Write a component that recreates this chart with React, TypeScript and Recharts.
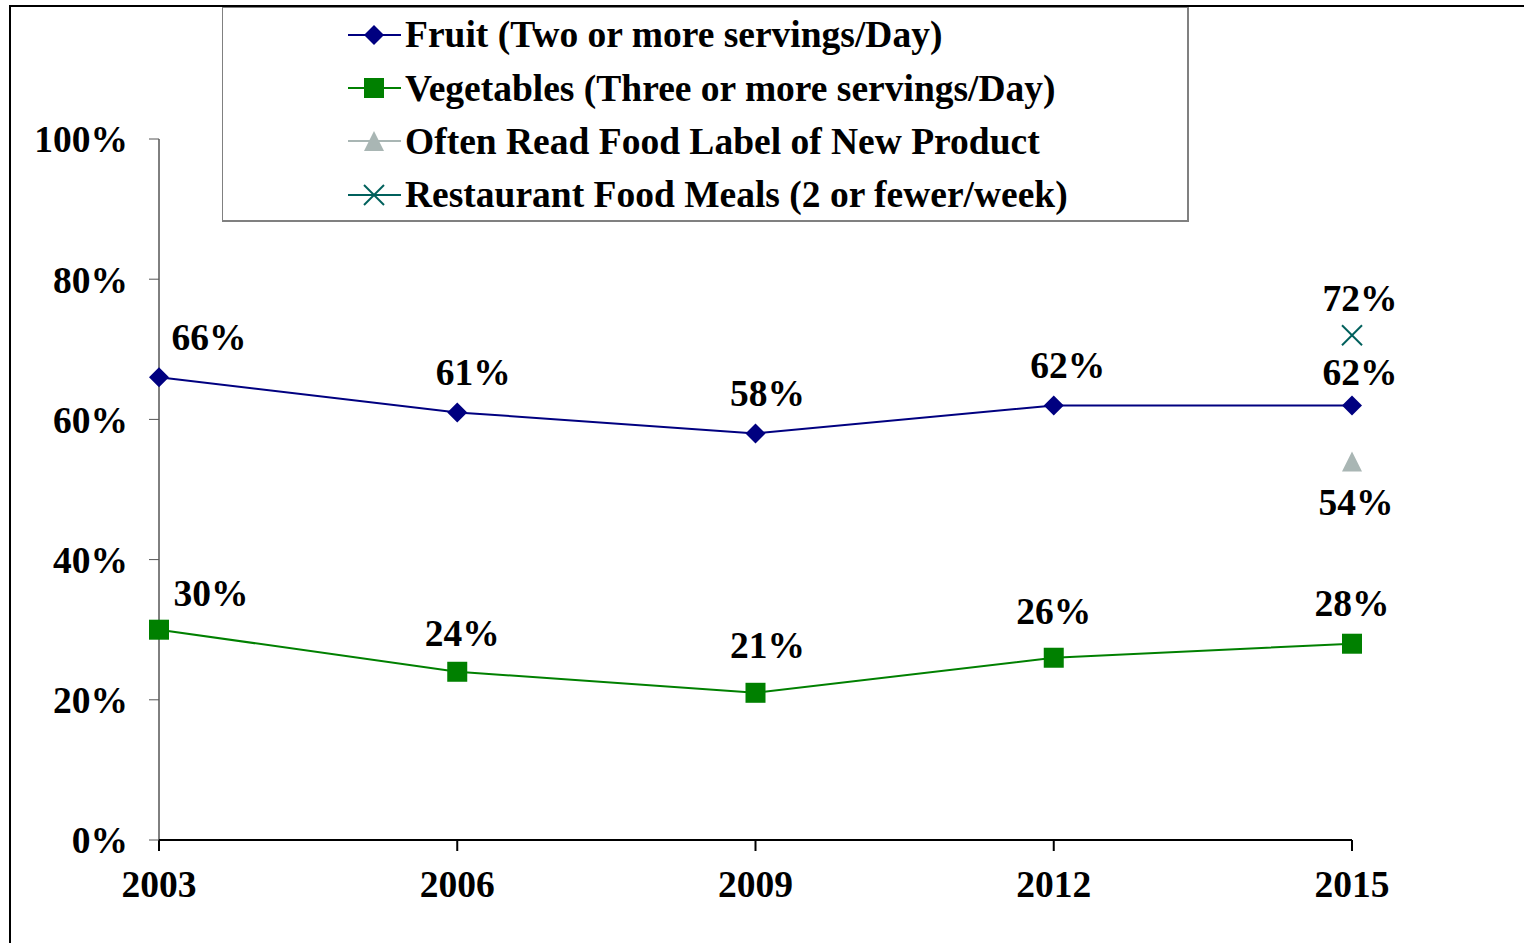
import { LineChart, Line, XAxis, YAxis } from "recharts";

// values
const years = ["2003", "2006", "2009", "2012", "2015"];
const fruit = [66, 61, 58, 62, 62];
const vegetables = [30, 24, 21, 26, 28];
const foodLabel = [null, null, null, null, 54];
const restaurant = [null, null, null, null, 72];
const yTicks = [0, 20, 40, 60, 80, 100];

const data = years.map((year, i) => ({
  year,
  fruit: fruit[i],
  vegetables: vegetables[i],
  foodLabel: foodLabel[i],
  restaurant: restaurant[i],
}));

const FONT = "'Liberation Serif', 'Times New Roman', serif";
const FS = 37.5;

const series = [
  { key: "fruit", name: "Fruit (Two or more servings/Day)", color: "#000080", shape: "diamond" },
  { key: "vegetables", name: "Vegetables (Three or more servings/Day)", color: "#008000", shape: "square" },
  { key: "foodLabel", name: "Often Read Food Label of New Product", color: "#A9B6B4", shape: "triangle" },
  { key: "restaurant", name: "Restaurant Food Meals (2 or fewer/week)", color: "#00605C", shape: "cross" },
];

// label nudges (centre of text relative to point)
const labelShift = {
  fruit: { dx: [50, 16, 12, 14, 8], dy: [-40, -40, -40, -40, -33] },
  vegetables: { dx: [52, 5, 12, 0, 0], dy: [-36, -38, -47, -46, -40] },
  foodLabel: { dx: [0, 0, 0, 0, 4], dy: [0, 0, 0, 0, 41] },
  restaurant: { dx: [0, 0, 0, 0, 8], dy: [0, 0, 0, 0, -37] },
};

function Marker({ cx, cy, shape, color, size = 20 }) {
  const h = size / 2;
  if (shape === "diamond") {
    return <polygon points={`${cx},${cy - h} ${cx + h},${cy} ${cx},${cy + h} ${cx - h},${cy}`} fill={color} />;
  }
  if (shape === "square") {
    return <rect x={cx - h} y={cy - h} width={size} height={size} fill={color} />;
  }
  if (shape === "triangle") {
    return <polygon points={`${cx},${cy - h} ${cx + h},${cy + h} ${cx - h},${cy + h}`} fill={color} />;
  }
  return (
    <g stroke={color} strokeWidth={2}>
      <line x1={cx - h} y1={cy - h} x2={cx + h} y2={cy + h} />
      <line x1={cx - h} y1={cy + h} x2={cx + h} y2={cy - h} />
    </g>
  );
}

const makeDot = (s) => (props) => {
  const { cx, cy, index, value } = props;
  if (value == null || cy == null) return <g key={`${s.key}-d-${index}`} />;
  return <Marker key={`${s.key}-d-${index}`} cx={cx} cy={cy} shape={s.shape} color={s.color} />;
};

const makeLabel = (s) => (props) => {
  const { x, y, value, index } = props;
  if (value == null) return null;
  const sh = labelShift[s.key];
  return (
    <text
      key={`${s.key}-l-${index}`}
      x={x + sh.dx[index]}
      y={y + sh.dy[index]}
      textAnchor="middle"
      dominantBaseline="central"
      fontFamily={FONT}
      fontWeight="bold"
      fontSize={FS}
      fill="#000"
    >
      {value}%
    </text>
  );
};

function LegendBox() {
  return (
    <div
      style={{
        position: "absolute",
        left: 222,
        top: 7,
        width: 967,
        height: 215,
        border: "1px solid #808080",
        borderRight: "2px solid #808080",
        borderBottom: "2px solid #808080",
        background: "#fff",
        fontFamily: FONT,
        fontWeight: "bold",
        fontSize: FS,
        boxSizing: "border-box",
      }}
    >
      {series.map((s) => (
        <div key={s.key} style={{ height: 53.4, display: "flex", alignItems: "center" }}>
          <svg width={182} height={30} style={{ flex: "none" }}>
            <line x1={125} y1={15} x2={178} y2={15} stroke={s.color} strokeWidth={2} />
            <Marker cx={151} cy={15} shape={s.shape} color={s.color} />
          </svg>
          <span style={{ whiteSpace: "nowrap", color: "#000" }}>{s.name}</span>
        </div>
      ))}
    </div>
  );
}

export default function App() {
  return (
    <div style={{ position: "fixed", left: 0, top: 0, width: 1524, height: 943, background: "#fff" }}>
      <div
        style={{
          position: "absolute",
          left: 9,
          top: 5,
          right: 0,
          bottom: 0,
          borderTop: "2px solid #000",
          borderLeft: "2px solid #000",
        }}
      />
      <LineChart
        width={1524}
        height={943}
        data={data}
        margin={{ top: 139, right: 172, bottom: 43, left: 19 }}
        style={{ position: "absolute", left: 0, top: 0 }}
      >
        <XAxis
          dataKey="year"
          height={60}
          axisLine={{ stroke: "#000", strokeWidth: 2 }}
          tickLine={{ stroke: "#000", strokeWidth: 2 }}
          tickSize={11}
          tickMargin={19}
          tick={{ fill: "#000", fontFamily: FONT, fontWeight: "bold", fontSize: FS }}
        />
        <YAxis
          width={140}
          domain={[0, 100]}
          ticks={yTicks}
          tickFormatter={(v) => `${v}%`}
          axisLine={{ stroke: "#000", strokeWidth: 1 }}
          tickLine={{ stroke: "#555", strokeWidth: 1 }}
          tickSize={10}
          tickMargin={21}
          tick={{ fill: "#000", fontFamily: FONT, fontWeight: "bold", fontSize: FS }}
        />
        {series.map((s) => (
          <Line
            key={s.key}
            dataKey={s.key}
            name={s.name}
            stroke={s.color}
            strokeWidth={2}
            dot={makeDot(s)}
            activeDot={false}
            label={makeLabel(s)}
            isAnimationActive={false}
          />
        ))}
      </LineChart>
      <LegendBox />
    </div>
  );
}
